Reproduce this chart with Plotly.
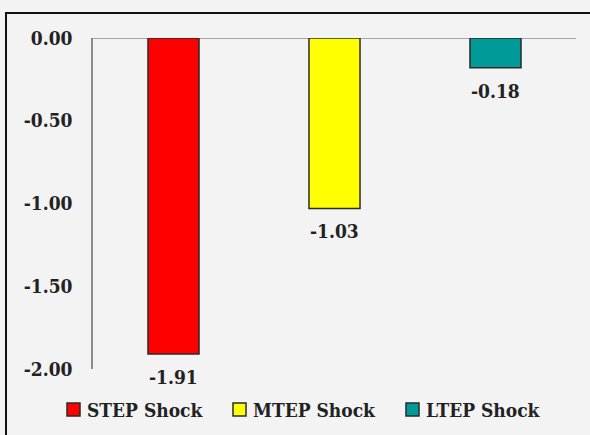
import plotly.graph_objects as go

# Shock responses
categories = ["STEP Shock", "MTEP Shock", "LTEP Shock"]
values = [-1.91, -1.03, -0.18]
colors = ["#ff0000", "#ffff00", "#009b98"]

tick_vals = [0, -0.5, -1.0, -1.5, -2.0]
tick_text = ["0.00", "-0.50", "-1.00", "-1.50", "-2.00"]

FONT = "DejaVu Serif Condensed, Liberation Serif, serif"
BG = "#f3f3f3"
L, R, T, B, W, H = 93, 14, 38, 66, 590, 435
PW, PH = W - L - R, H - T - B


def px_x(px):
    return (px - L) / PW


def px_y(py):
    return (H - B - py) / PH


fig = go.Figure()
for cat, val, col in zip(categories, values, colors):
    fig.add_trace(go.Bar(
        x=[cat], y=[val], name=cat,
        marker=dict(color=col, line=dict(color="#2b2b2b", width=1.5)),
        width=0.317, showlegend=False,
    ))
    fig.add_annotation(
        x=cat, y=val, text=f"<b>{val:.2f}</b>", showarrow=False,
        yanchor="top", yshift=-10,
        font=dict(family=FONT, size=19, color="#222"),
    )

# Legend row below the plot: swatch + label per series
legend_left = [67, 233, 406]
for left, cat, col in zip(legend_left, categories, colors):
    fig.add_shape(type="rect", xref="paper", yref="paper",
                  x0=px_x(left), x1=px_x(left + 13), y0=px_y(416), y1=px_y(403),
                  fillcolor=col, line=dict(color="#2b2b2b", width=1.5))
    fig.add_annotation(xref="paper", yref="paper", x=px_x(left + 18), y=px_y(410),
                       xanchor="left", yanchor="middle", showarrow=False,
                       text=f"<b>{cat}</b>",
                       font=dict(family=FONT, size=19, color="#222"))

# Outer frame
fig.add_shape(type="rect", xref="paper", yref="paper",
              x0=px_x(6), x1=1.5, y0=-0.5, y1=px_y(13),
              line=dict(color="#111", width=2), fillcolor="rgba(0,0,0,0)")

# Zero baseline across the plot
fig.add_shape(type="line", xref="paper", yref="y", x0=0, x1=1, y0=0, y1=0,
              line=dict(color="#8a8a8a", width=1.5), layer="below")

fig.update_layout(
    width=W, height=H,
    margin=dict(l=L, r=R, t=T, b=B),
    paper_bgcolor=BG, plot_bgcolor=BG,
    barmode="overlay",
    showlegend=False,
    xaxis=dict(showticklabels=False, showline=False, showgrid=False, zeroline=False,
               range=[-0.5, 2.5]),
    yaxis=dict(range=[-2.0, 0.0], tickvals=tick_vals, ticktext=[f"<b>{t}</b>" for t in tick_text],
               showgrid=False, zeroline=False, showline=True, linecolor="#8a8a8a", linewidth=1.5,
               ticks="", ticklabelstandoff=15,
               tickfont=dict(family=FONT, size=19, color="#222")),
)

fig.write_html("out.html")
